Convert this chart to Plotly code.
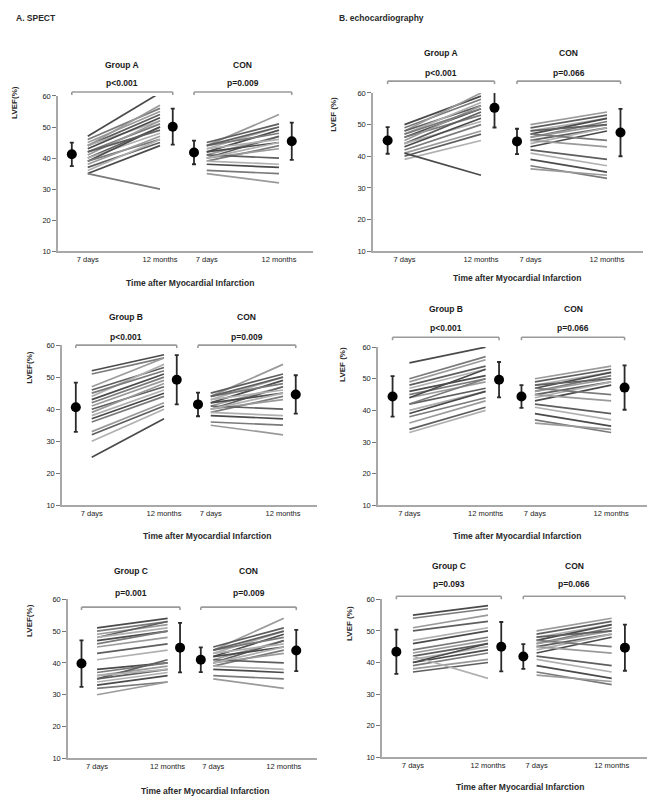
import plotly.graph_objects as go

W, H = 647, 802
FONT = "Arial, Liberation Sans, sans-serif"

# ---- LVEF (%) per patient: value at 7 days and at 12 months ----
spect_a_7d  = [47, 46, 45, 44, 44, 43, 42, 41, 40, 40, 39, 39, 38, 37, 36, 35, 35, 44, 42]
spect_a_12m = [61, 56, 55, 54, 52, 53, 51, 52, 50, 48, 50, 46, 47, 45, 46, 44, 30, 57, 49]

echo_a_7d   = [50, 49, 48, 48, 47, 46, 46, 45, 44, 44, 43, 42, 41, 40, 39, 41, 47]
echo_a_12m  = [59, 58, 60, 56, 57, 55, 53, 56, 54, 51, 52, 50, 48, 47, 45, 34, 55]

spect_b_7d  = [52, 51, 47, 46, 44, 43, 42, 41, 40, 38, 37, 36, 33, 32, 30, 25, 45, 39]
spect_b_12m = [57, 56, 56, 53, 54, 51, 50, 49, 47, 46, 45, 44, 42, 41, 40, 37, 52, 48]

echo_b_7d   = [55, 50, 49, 48, 47, 46, 45, 44, 42, 40, 39, 38, 36, 34, 33, 44, 42]
echo_b_12m  = [60, 57, 56, 54, 53, 51, 50, 49, 47, 46, 46, 44, 43, 41, 40, 53, 50]

spect_c_7d  = [51, 50, 49, 48, 48, 47, 46, 45, 43, 41, 38, 37, 36, 35, 34, 33, 32, 30, 35, 36]
spect_c_12m = [54, 53, 52, 53, 51, 50, 50, 48, 46, 44, 40, 40, 39, 38, 37, 36, 34, 34, 41, 38]

echo_c_7d   = [55, 54, 51, 50, 47, 46, 44, 43, 42, 41, 40, 39, 38, 37, 42, 40]
echo_c_12m  = [58, 57, 55, 53, 51, 50, 48, 47, 46, 45, 44, 43, 41, 40, 35, 46]

con_spect_7d  = [44, 45, 43, 42, 44, 41, 40, 43, 42, 39, 40, 41, 39, 38, 36, 35, 44, 40]
con_spect_12m = [54, 51, 50, 49, 48, 47, 47, 46, 45, 44, 43, 40, 38, 37, 35, 32, 50, 45]

con_echo_7d   = [50, 49, 48, 47, 46, 46, 45, 44, 43, 47, 45, 42, 41, 39, 37, 36, 48]
con_echo_12m  = [54, 53, 52, 52, 51, 50, 49, 49, 48, 45, 43, 39, 37, 35, 33, 34, 50]

# ---- group summaries: mean and SD (7 days, 12 months) ----
treat_mean_7d  = [41.2, 45.0, 40.6, 44.4, 39.8, 43.4]
treat_sd_7d    = [3.8, 4.2, 7.7, 6.4, 7.3, 7.0]
treat_mean_12m = [50.1, 55.3, 49.2, 49.7, 44.8, 45.0]
treat_sd_12m   = [5.8, 6.2, 7.7, 5.6, 7.8, 7.8]
con_mean_7d    = [41.8, 44.7, 41.5, 44.4, 41.0, 41.9]
con_sd_7d      = [3.8, 4.0, 3.7, 3.6, 3.9, 3.9]
con_mean_12m   = [45.4, 47.5, 44.6, 47.2, 43.9, 44.7]
con_sd_12m     = [6.0, 7.5, 6.0, 7.0, 6.5, 7.3]

group_names = ["Group A", "Group A", "Group B", "Group B", "Group C", "Group C"]
p_treat = ["p<0.001", "p<0.001", "p<0.001", "p<0.001", "p=0.001", "p=0.093"]
p_con   = ["p=0.009", "p=0.066", "p=0.009", "p=0.066", "p=0.009", "p=0.066"]
y_titles = ["LVEF(%)", "LVEF (%)", "LVEF(%)", "LVEF (%)", "LVEF(%)", "LVEF (%)"]
x_ticktext = ["7 days", "12 months", "7 days", "12 months"]
y_ticks = [10, 20, 30, 40, 50, 60]
section_titles = ["A. SPECT", "B. echocardiography"]

treat_pairs = [(spect_a_7d, spect_a_12m), (echo_a_7d, echo_a_12m),
               (spect_b_7d, spect_b_12m), (echo_b_7d, echo_b_12m),
               (spect_c_7d, spect_c_12m), (echo_c_7d, echo_c_12m)]
con_pairs = [(con_spect_7d, con_spect_12m), (con_echo_7d, con_echo_12m)] * 3

# x positions on each panel's axis (range 0..12)
XR = (0, 12)
X_MEAN7, X_START, X_END, X_MEAN12 = 0.65, 1.4, 4.8, 5.4
C_MEAN7, C_START, C_END, C_MEAN12 = 6.4, 7.0, 10.4, 11.0

# panel geometry in pixels: axis left, axis right, top (60), bottom (10),
# title row, p-value row, bracket row, y-title x / centre, x-title x / y
panels = [
    dict(l=58, r=313, t=93, b=250, ty=62, py=80, by=89, ytx=15, yty=100, xtx=190, xty=282),
    dict(l=373, r=643, t=90, b=250, ty=50, py=70, by=78, ytx=334, yty=112, xtx=517, xty=277),
    dict(l=62, r=317, t=345, b=507, ty=317, py=337, by=345, ytx=30, yty=368, xtx=207, xty=538),
    dict(l=378, r=647, t=347, b=507, ty=308, py=328, by=337, ytx=343, yty=365, xtx=517, xty=538),
    dict(l=68, r=317, t=602, b=763, ty=573, py=596, by=610, ytx=30, yty=624, xtx=205, xty=796),
    dict(l=382, r=647, t=602, b=762, ty=568, py=587, by=599, ytx=350, yty=627, xtx=520, xty=792),
]

line_greys = ["#4a4a4a", "#7a7a7a", "#9a9a9a", "#5e5e5e", "#b0b0b0"]


def pxx(v):
    return v / W


def pxy(v):
    return 1 - v / H


fig = go.Figure()
shapes, annotations = [], []
layout = {}

for i, p in enumerate(panels):
    n = "" if i == 0 else str(i + 1)
    xa, ya = "x" + n, "y" + n

    def xpaper(xv, p=p):
        return pxx(p["l"] + (xv - XR[0]) / (XR[1] - XR[0]) * (p["r"] - p["l"]))

    # individual patient lines
    for k, (a, b) in enumerate(zip(*treat_pairs[i])):
        fig.add_trace(go.Scatter(x=[X_START, X_END], y=[a, b], mode="lines",
                                 line=dict(color=line_greys[k % 5], width=1.7),
                                 xaxis=xa, yaxis=ya, showlegend=False, hoverinfo="skip"))
    for k, (a, b) in enumerate(zip(*con_pairs[i])):
        fig.add_trace(go.Scatter(x=[C_START, C_END], y=[a, b], mode="lines",
                                 line=dict(color=line_greys[(k + 2) % 5], width=1.7),
                                 xaxis=xa, yaxis=ya, showlegend=False, hoverinfo="skip"))

    # mean ± SD markers
    fig.add_trace(go.Scatter(
        x=[X_MEAN7, X_MEAN12, C_MEAN7, C_MEAN12],
        y=[treat_mean_7d[i], treat_mean_12m[i], con_mean_7d[i], con_mean_12m[i]],
        mode="markers",
        marker=dict(color="#000000", size=10, symbol="circle"),
        error_y=dict(type="data", array=[treat_sd_7d[i], treat_sd_12m[i], con_sd_7d[i], con_sd_12m[i]],
                     color="#2a2a2a", thickness=1.8, width=2),
        xaxis=xa, yaxis=ya, showlegend=False, hoverinfo="skip", cliponaxis=False))

    layout["xaxis" + n] = dict(
        domain=[pxx(p["l"]), pxx(p["r"])], range=list(XR), anchor=ya,
        showgrid=False, zeroline=False, showline=True, linecolor="#a8a8a8", linewidth=2,
        tickmode="array", tickvals=[X_START, X_END, C_START, C_END], ticktext=x_ticktext,
        ticks="", tickfont=dict(size=7.5, color="#1a1a1a", family=FONT), fixedrange=True)
    layout["yaxis" + n] = dict(
        domain=[pxy(p["b"]), pxy(p["t"])], range=[10, 60], anchor=xa,
        showgrid=False, zeroline=False, showline=True, linecolor="#a8a8a8", linewidth=1.5,
        tickmode="array", tickvals=y_ticks, ticks="outside", ticklen=4, tickcolor="#777777",
        tickfont=dict(size=7.5, color="#1a1a1a", family=FONT), fixedrange=True)

    # significance brackets
    tick = 3 / H
    by = pxy(p["by"])
    for x0, x1 in [(X_MEAN7, X_MEAN12), (C_MEAN7, C_MEAN12)]:
        xp0, xp1 = xpaper(x0), xpaper(x1)
        for sx0, sy0, sx1, sy1 in [(xp0, by, xp1, by), (xp0, by, xp0, by - tick), (xp1, by, xp1, by - tick)]:
            shapes.append(dict(type="line", xref="paper", yref="paper",
                               x0=sx0, y0=sy0, x1=sx1, y1=sy1,
                               line=dict(color="#9a9a9a", width=1.6)))

    tx_treat = xpaper((X_MEAN7 + X_MEAN12) / 2)
    tx_con = xpaper((C_MEAN7 + C_MEAN12) / 2)
    for xx, txt, yy in [(tx_treat, "<b>" + group_names[i] + "</b>", p["ty"]),
                        (tx_con, "<b>CON</b>", p["ty"]),
                        (tx_treat, "<b>" + p_treat[i] + "</b>", p["py"]),
                        (tx_con, "<b>" + p_con[i] + "</b>", p["py"])]:
        annotations.append(dict(x=xx, y=pxy(yy), xref="paper", yref="paper", text=txt,
                                showarrow=False, xanchor="center", yanchor="middle",
                                font=dict(size=8.5, color="#1a1a1a", family=FONT)))

    annotations.append(dict(x=pxx(p["ytx"]), y=pxy(p["yty"]), xref="paper", yref="paper",
                            text="<b>" + y_titles[i] + "</b>", textangle=-90, showarrow=False,
                            xanchor="center", yanchor="middle",
                            font=dict(size=8, color="#2a2a2a", family=FONT)))
    annotations.append(dict(x=pxx(p["xtx"]), y=pxy(p["xty"]), xref="paper", yref="paper",
                            text="<b>Time after Myocardial Infarction</b>", showarrow=False,
                            xanchor="center", yanchor="middle",
                            font=dict(size=8.5, color="#2a2a2a", family=FONT)))

annotations.append(dict(x=pxx(14), y=pxy(14), xref="paper", yref="paper",
                        text="<b>" + section_titles[0] + "</b>", showarrow=False,
                        xanchor="left", yanchor="middle",
                        font=dict(size=8.5, color="#2a2a2a", family=FONT)))
annotations.append(dict(x=pxx(337), y=pxy(14), xref="paper", yref="paper",
                        text="<b>" + section_titles[1] + "</b>", showarrow=False,
                        xanchor="left", yanchor="middle",
                        font=dict(size=8.5, color="#2a2a2a", family=FONT)))

fig.update_layout(
    width=W, height=H, margin=dict(l=0, r=0, t=0, b=0),
    paper_bgcolor="white", plot_bgcolor="white",
    shapes=shapes, annotations=annotations, showlegend=False,
    font=dict(family=FONT),
    **layout)

fig.write_html("out.html", config={"displayModeBar": False})
